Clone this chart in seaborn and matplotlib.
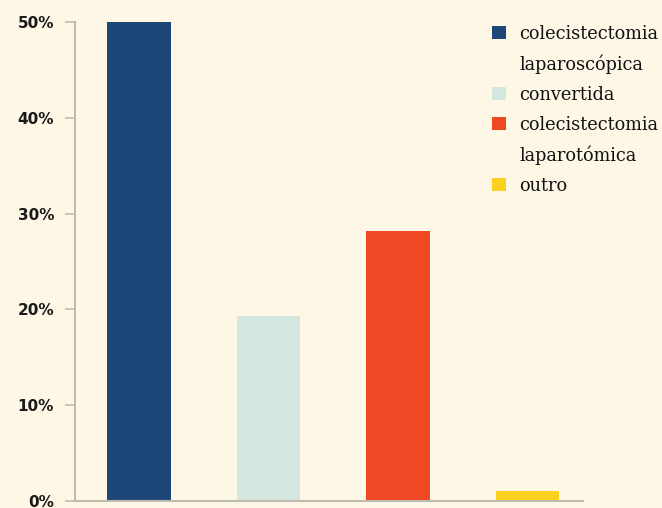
import matplotlib
matplotlib.use("Agg")
import matplotlib.pyplot as plt
import seaborn as sns
import pandas as pd
from matplotlib.ticker import FuncFormatter
from matplotlib.patches import Patch

categories = ["colecistectomia laparoscópica", "convertida",
              "colecistectomia laparotómica", "outro"]
legend_lines = [["colecistectomia", "laparoscópica"], ["convertida"],
                ["colecistectomia", "laparotómica"], ["outro"]]
values = [50.0, 19.3, 28.2, 1.0]
colors = ["#1D4679", "#D3E7DF", "#EE4824", "#FCD020"]
yticks = [0, 10, 20, 30, 40, 50]

bg = "#FEF7E6"
grey = "#BEBCB0"

sns.set_theme(style="white")
fig = plt.figure(figsize=(6.62, 5.08), dpi=100, facecolor=bg)
ax = fig.add_axes([75/662, 1-501/508, (583-75)/662, (501-22)/508])
ax.set_facecolor(bg)

df = pd.DataFrame({"cat": categories, "val": values})
sns.barplot(data=df, x="cat", y="val", hue="cat", palette=colors,
            width=0.49, ax=ax, legend=False, saturation=1,
            edgecolor="none", linewidth=0)

ax.set_xlim(-0.494, 3.43)
ax.set_ylim(0, 50)
ax.set_yticks(yticks)
ax.yaxis.set_major_formatter(FuncFormatter(lambda v, p: f"{int(v)}%"))
ax.set_xticks([])
ax.set_xlabel("")
ax.set_ylabel("")
for s in ["top", "right"]:
    ax.spines[s].set_visible(False)
for s in ["left", "bottom"]:
    ax.spines[s].set_color(grey)
    ax.spines[s].set_linewidth(1.5)
ax.tick_params(axis="y", which="both", left=True, length=7.5, width=1.2,
               color=grey, pad=7.5, labelsize=11)
for lbl in ax.get_yticklabels():
    lbl.set_fontweight("bold")
    lbl.set_color("#1a1a1a")

handles, labels = [], []
for c, lines in zip(colors, legend_lines):
    for i, line in enumerate(lines):
        if i == 0:
            handles.append(Patch(facecolor=c, edgecolor="none"))
        else:
            handles.append(Patch(facecolor="none", edgecolor="none"))
        labels.append(line)

leg = fig.legend(handles, labels, loc="upper left",
                 bbox_to_anchor=(492/662, 1-25/508), frameon=False,
                 prop={"family": "DejaVu Serif", "size": 12.8},
                 handlelength=0.78, handleheight=0.78, handletextpad=0.76,
                 labelspacing=0.66, borderaxespad=0, borderpad=0)
for t in leg.get_texts():
    t.set_color("#111111")

fig.savefig("out.png", dpi=100, facecolor=bg)
